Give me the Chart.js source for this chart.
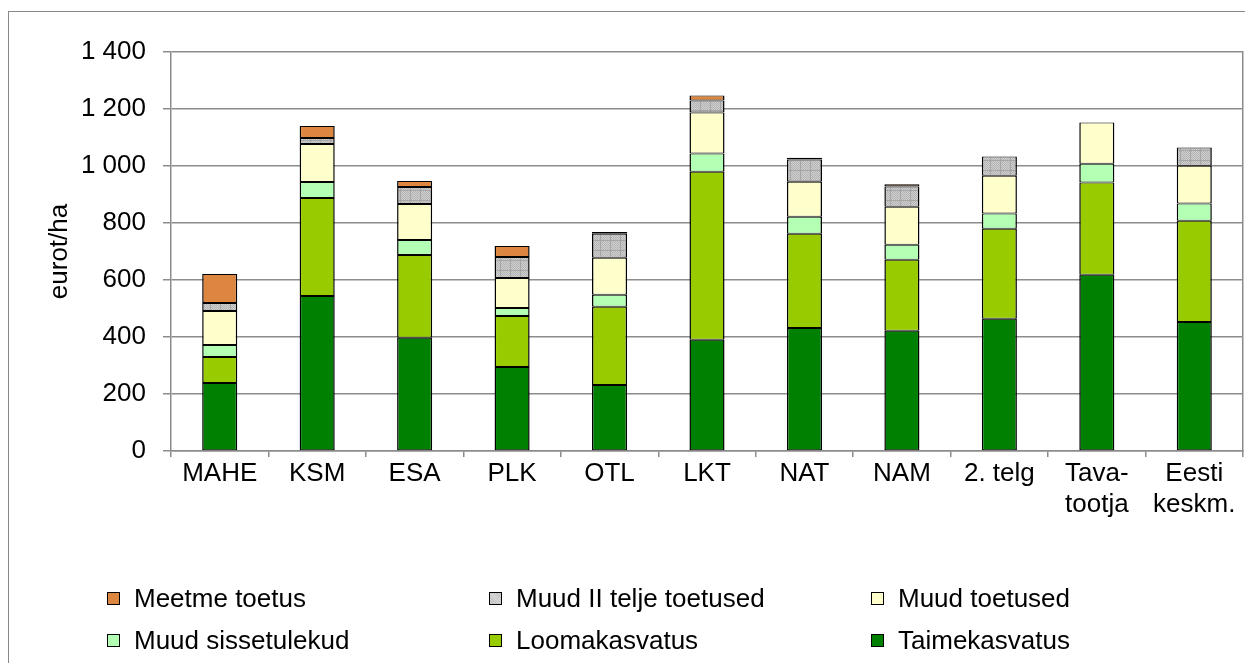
<!DOCTYPE html>
<html>
<head>
<meta charset="utf-8">
<script src="https://cdn.jsdelivr.net/npm/chart.js@4"></script>
<style>
  html, body { margin: 0; padding: 0; background: #fff; }
  #wrap { position: relative; width: 1245px; height: 663px; overflow: hidden; }
  #frame { position: absolute; left: 8px; top: 11px; width: 1300px; height: 700px; border-left: 1px solid #888; border-top: 1px solid #888; }
  canvas { position: absolute; left: 0; top: 0; }
  .lg { position: absolute; font: 26px "Liberation Sans", Arial, sans-serif; color: #000; white-space: nowrap; line-height: 30px; }
  .lg i { position: absolute; left: -27px; top: 9px; width: 11px; height: 11px; border: 1px solid #000; }
</style>
</head>
<body>
<div id="wrap">
  <div id="frame"></div>
  <canvas id="chart" width="1245" height="663"></canvas>
</div>
<script>
var categories = ['MAHE', 'KSM', 'ESA', 'PLK', 'OTL', 'LKT', 'NAT', 'NAM', '2. telg', ['Tava-', 'tootja'], ['Eesti', 'keskm.']];
var taimekasvatus    = [239, 544, 397, 295, 232, 390, 432, 422, 464, 618, 453];
var loomakasvatus    = [ 91, 344, 291, 179, 274, 590, 330, 249, 316, 324, 355];
var muudSissetulekud = [ 42,  56,  52,  28,  42,  64,  60,  53,  53,  66,  60];
var muudToetused     = [119, 133, 127, 105, 130, 144, 123, 133, 133, 145, 133];
var muudIITelje      = [ 28,  21,  59,  74,  84,  42,  78,  71,  67, null, 64];
var meetmeToetus     = [102,  42,  21,  38,   6,  17,   6,   8, null, null, null];
var yTicks = [0, 200, 400, 600, 800, 1000, 1200, 1400];

var FONT = '"Liberation Sans", Arial, sans-serif';

// stipple fill for "Muud II telje toetused"
function makePattern() {
  var c = document.createElement('canvas');
  c.width = 10; c.height = 10;
  var g = c.getContext('2d');
  g.fillStyle = '#cfcfcf';
  g.fillRect(0, 0, 10, 10);
  g.fillStyle = '#b4b4b4';
  for (var x = 0; x < 10; x++) {
    for (var y = 0; y < 10; y++) {
      if ((x + y) % 2 === 0) g.fillRect(x, y, 1, 1);
    }
  }
  g.fillStyle = '#a6a6a6';
  g.fillRect(0, 0, 10, 1);
  g.fillRect(0, 0, 1, 10);
  return g.createPattern(c, 'repeat');
}
var grayPattern = makePattern();

function ds(label, data, color) {
  return {
    label: label, data: data, backgroundColor: color,
    borderColor: '#000', borderWidth: { top: 1, bottom: 1, left: 1.5, right: 1.5 }, borderSkipped: false,
    categoryPercentage: 1, barPercentage: 0.36
  };
}

var chart = new Chart(document.getElementById('chart'), {
  type: 'bar',
  data: {
    labels: categories,
    datasets: [
      ds('Taimekasvatus', taimekasvatus, '#008000'),
      ds('Loomakasvatus', loomakasvatus, '#99cc00'),
      ds('Muud sissetulekud', muudSissetulekud, '#b3ffb3'),
      ds('Muud toetused', muudToetused, '#ffffcc'),
      ds('Muud II telje toetused', muudIITelje, grayPattern),
      ds('Meetme toetus', meetmeToetus, '#dd8640')
    ]
  },
  options: {
    responsive: false,
    animation: false,
    layout: { padding: { left: 8, top: 52, right: 2, bottom: 0 } },
    plugins: { legend: { display: false }, tooltip: { enabled: false } },
    scales: {
      x: {
        stacked: true,
        afterFit: function (s) { s.height = 212; },
        grid: { display: true, drawOnChartArea: false, drawTicks: true, tickLength: 6, color: '#8c8c8c', lineWidth: 1.5 },
        border: { display: true, color: '#8c8c8c', width: 1.5 },
        ticks: { color: '#000', font: { family: FONT, size: 26, lineHeight: 1.2 }, padding: 1, maxRotation: 0, autoSkip: false }
      },
      y: {
        stacked: true,
        min: 0, max: 1400,
        afterFit: function (s) { s.width = 163; },
        afterBuildTicks: function (s) { s.ticks = yTicks.map(function (v) { return { value: v }; }); },
        grid: { color: '#8c8c8c', lineWidth: 1.5, tickLength: 8 },
        border: { display: true, color: '#8c8c8c', width: 1.5 },
        ticks: {
          color: '#000', padding: 17,
          font: { family: FONT, size: 26 },
          callback: function (v) { return String(v).replace(/\B(?=(\d{3})+(?!\d))/g, ' '); }
        },
        title: { display: true, text: 'eurot/ha', color: '#000', font: { family: FONT, size: 26 }, padding: { top: 36, bottom: 0 } }
      },
      y2: {
        position: 'right', min: 0, max: 1400,
        afterFit: function (s) { s.width = 0; },
        grid: { display: false },
        ticks: { display: false },
        border: { display: true, color: '#8c8c8c', width: 1.5 }
      }
    }
  }
});

// legend laid out as a 3-column grid, top of stack first
var cols = [134, 516, 898];
var rows = [583, 625];
var items = chart.data.datasets.slice().reverse();
items.forEach(function (d, i) {
  var el = document.createElement('div');
  el.className = 'lg';
  el.style.left = cols[i % 3] + 'px';
  el.style.top = rows[Math.floor(i / 3)] + 'px';
  var sw = document.createElement('i');
  if (d.label === 'Muud II telje toetused') {
    sw.style.background = 'repeating-linear-gradient(45deg,#c4c4c4 0 1px,#d6d6d6 1px 2px)';
  } else {
    sw.style.background = d.backgroundColor;
  }
  el.appendChild(sw);
  el.appendChild(document.createTextNode(d.label));
  document.getElementById('wrap').appendChild(el);
});
</script>
</body>
</html>
